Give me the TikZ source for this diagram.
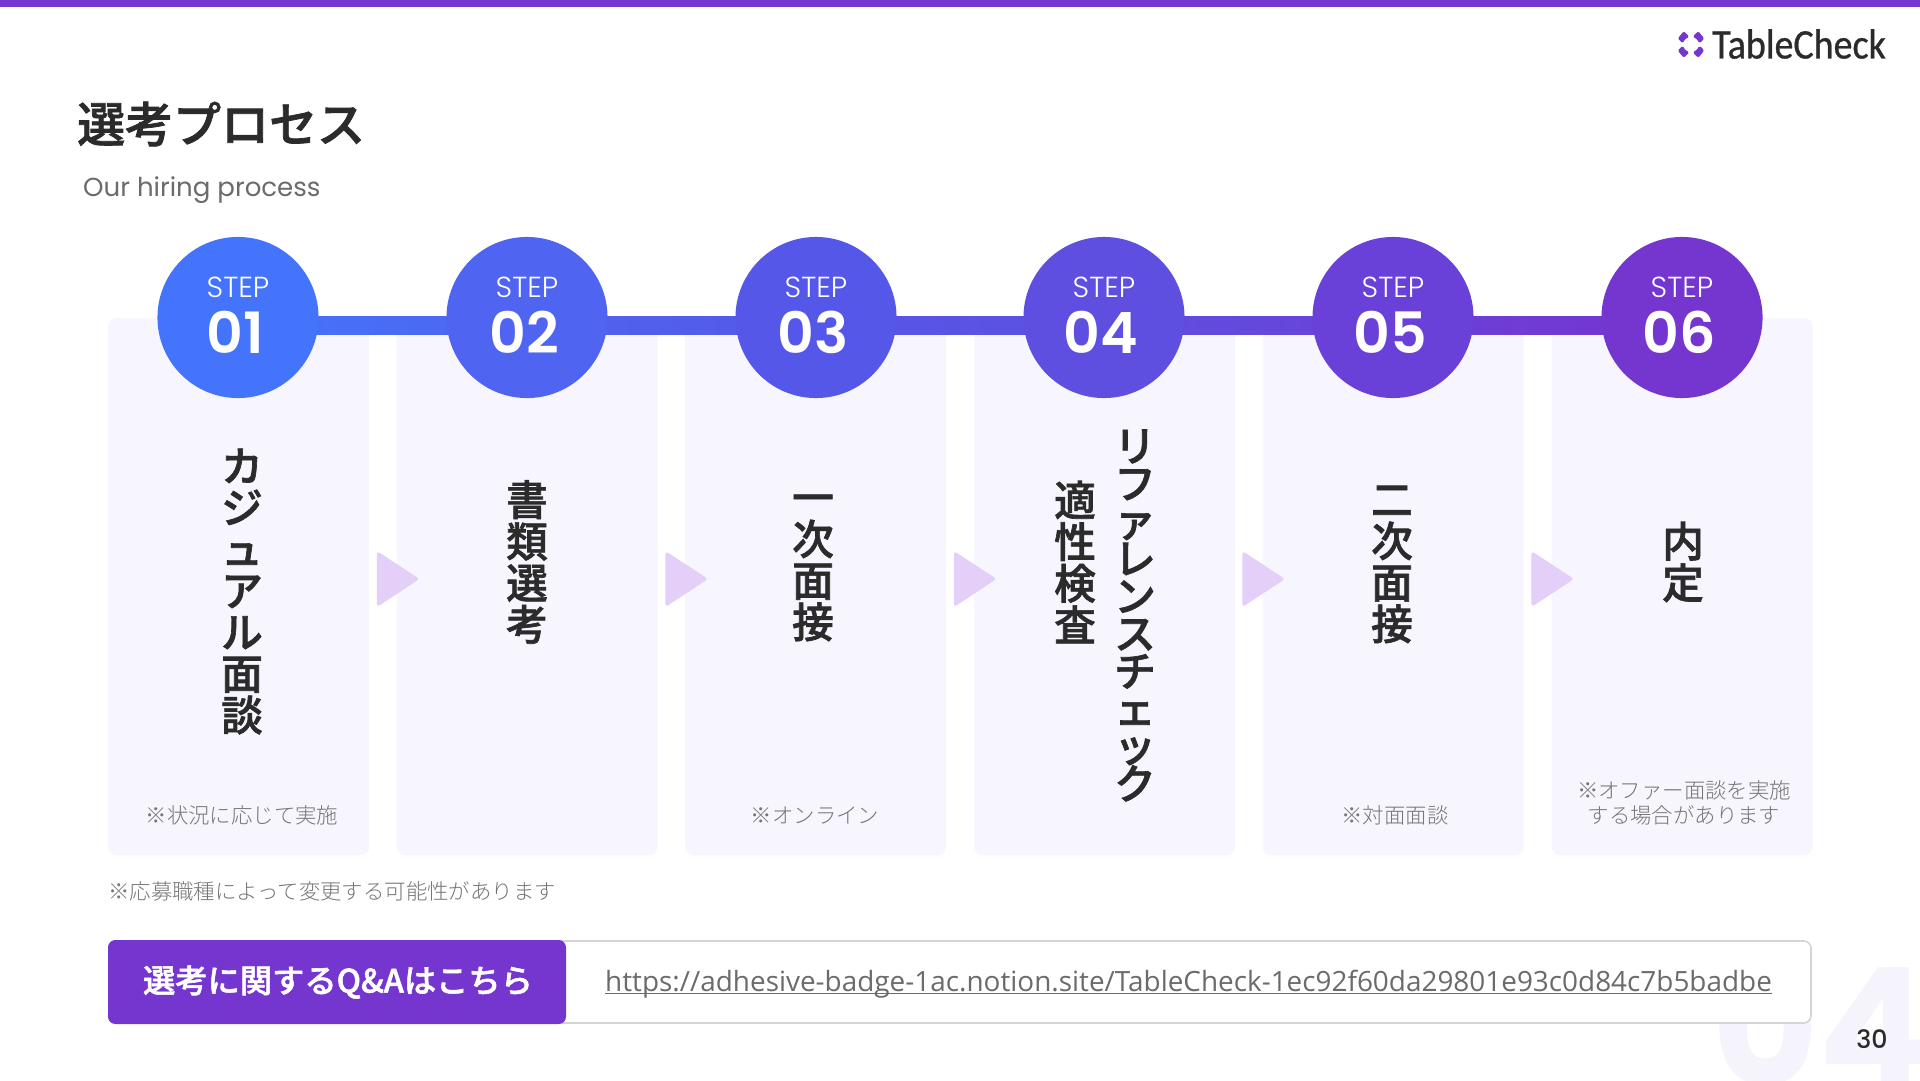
\documentclass[tikz,border=0pt]{standalone}
\usepackage{fontspec}
\setmainfont{Noto Sans CJK JP}
\newfontfamily\lightfont{Noto Sans CJK JP Light}
\newfontfamily\semifont[FakeBold=1.6]{Noto Sans CJK JP Medium}
\newfontfamily\dmfont{Poppins}
\newfontfamily\dmlight{Poppins Light}
\newfontfamily\dmmed{Poppins Medium}
\newfontfamily\dmsemi{Poppins SemiBold}
\newfontfamily\urlfont{Open Sans}
\newfontfamily\logofont[FakeStretch=0.9,FakeBold=0.7]{Carlito}
\usetikzlibrary{calc}
\pgfdeclarelayer{cardlayer}
\pgfdeclarelayer{connlayer}
\pgfsetlayers{cardlayer,connlayer,main}
\definecolor{topbar}{HTML}{7535CF}
\definecolor{cardbg}{HTML}{F7F5FD}
\definecolor{ink}{HTML}{2B2B2B}
\definecolor{note}{HTML}{767676}
\definecolor{subt}{HTML}{6B6B6B}
\definecolor{arrowc}{HTML}{E3CFF8}
\definecolor{wm}{HTML}{F5F3FC}
\definecolor{cA}{HTML}{4374FB}
\definecolor{cB}{HTML}{4F64F0}
\definecolor{cC}{HTML}{5557E8}
\definecolor{cD}{HTML}{5E4FE0}
\definecolor{cE}{HTML}{6A41D8}
\definecolor{cF}{HTML}{7535CF}
\tikzset{x=1cm/30,y=-1cm/30,
 card/.style={fill=cardbg,draw=none,rounded corners=8pt,minimum width=8.7cm,minimum height=17.9cm,anchor=north west},
 stepc/.style={circle,minimum size=5.37cm,inner sep=0pt,draw=none},
 steplabel/.style={font=\dmlight\fontsize{27.5}{27.5}\selectfont,text=white,inner sep=0pt},
 stepnum/.style={font=\dmsemi\fontsize{54}{54}\selectfont,text=white,inner sep=0pt},
 vlabel/.style={text=ink,inner sep=0pt,align=center,font=\semifont\fontsize{39.5}{39.4}\selectfont},
 vtight/.style={text=ink,inner sep=0pt,align=center,font=\semifont\fontsize{39.5}{35.6}\selectfont},
 notelabel/.style={text=note,font=\lightfont\fontsize{20.3}{23.3}\selectfont,inner sep=0pt,align=center},
 tri/.style={fill=arrowc,draw=arrowc,line width=1pt,rounded corners=2pt,line join=round},
 logopiece/.style={fill=topbar,draw=topbar,line width=1pt,rounded corners=1pt,line join=round}
}
\begin{document}
\begin{tikzpicture}
\useasboundingbox (0,0) rectangle (1920,1080);
\begin{pgfonlayer}{cardlayer}
\fill[white] (0,0) rectangle (1920,1080);
\begin{scope}
\clip (0,0) rectangle (1920,1080);
\node[anchor=base west,text=wm,inner sep=0pt,font=\dmfont\bfseries\fontsize{155}{155}\selectfont] (wmark) at (1712,1085) {04};
\end{scope}
\node[card] (c1) at (108,318) {};
\node[card] (c2) at (396.5,318) {};
\node[card] (c3) at (685,318) {};
\node[card] (c4) at (974,318) {};
\node[card] (c5) at (1262.5,318) {};
\node[card] (c6) at (1551.5,318) {};
\end{pgfonlayer}
\fill[topbar] (0,0) rectangle (1920,7);
% title
\node[anchor=west,text=ink,inner sep=0pt,font=\semifont\fontsize{45.5}{45.5}\selectfont] (title) at (77,124) {選考プロセス};
\node[anchor=west,text=subt,inner sep=0pt,font=\dmfont\fontsize{24.7}{24.7}\selectfont] (sub) at (83,190.5) {Our hiring process};
% logo
\node[anchor=west,text=ink,inner sep=0pt,font=\logofont\fontsize{40}{40}\selectfont] (logo) at (1712,44) {TableCheck};
\begin{scope}[shift={(1691,44.5)}]
\fill[logopiece] (-12.5,-6) -- (-7.3,-12.5) -- (-2.5,-8) -- (-6.5,-5.5) -- (-8.5,-2) -- cycle;
\fill[logopiece] (12.5,-6) -- (7.3,-12.5) -- (2.5,-8) -- (6.5,-5.5) -- (8.5,-2) -- cycle;
\fill[logopiece] (-12.5,6) -- (-7.3,12.5) -- (-2.5,8) -- (-6.5,5.5) -- (-8.5,2) -- cycle;
\fill[logopiece] (12.5,6) -- (7.3,12.5) -- (2.5,8) -- (6.5,5.5) -- (8.5,2) -- cycle;
\end{scope}
% circles
\node[stepc,fill=cA] (s1) at (238,317.5) {};
\node[stepc,fill=cB] (s2) at (527,317.5) {};
\node[stepc,fill=cC] (s3) at (816,317.5) {};
\node[stepc,fill=cD] (s4) at (1104,317.5) {};
\node[stepc,fill=cE] (s5) at (1393,317.5) {};
\node[stepc,fill=cF] (s6) at (1682,317.5) {};
% connectors
\begin{pgfonlayer}{connlayer}
\fill[left color=cA,right color=cB] ($(s1.center)+(0,-1.5)$) rectangle ($(s2.center)+(0,16.5)$);
\fill[left color=cB,right color=cC] ($(s2.center)+(0,-1.5)$) rectangle ($(s3.center)+(0,16.5)$);
\fill[left color=cC,right color=cD] ($(s3.center)+(0,-1.5)$) rectangle ($(s4.center)+(0,16.5)$);
\fill[left color=cD,right color=cE] ($(s4.center)+(0,-1.5)$) rectangle ($(s5.center)+(0,16.5)$);
\fill[left color=cE,right color=cF] ($(s5.center)+(0,-1.5)$) rectangle ($(s6.center)+(0,16.5)$);
\end{pgfonlayer}
% step labels
\foreach \n/\x in {01/238,02/527,03/816,04/1104,05/1393,06/1682}{
 \node[steplabel] (st\n) at (\x,287.5) {STEP};
 \node[stepnum] (nu\n) at (\x-3,332) {\n};
}
% arrows
\foreach \x in {377.5,666,954.5,1243,1532}{
 \fill[tri,draw=arrowc] (\x,552) -- (\x+41,579) -- (\x,606) -- cycle;
}
% vertical labels
\node[vlabel] (v1) at (242,591.5) {カ\\ジ\\ュ\\ア\\ル\\面\\談};
\node[vlabel] (v2) at (527,562) {書\\類\\選\\考};
\node[vlabel] (v3) at (813,568) {一\\次\\面\\接};
\node[vtight] (v4a) at (1135,615.5) {リ\\フ\\ァ\\レ\\ン\\ス\\チ\\ェ\\ッ\\ク};
\node[vlabel] (v4b) at (1075,562) {適\\性\\検\\査};
\node[vlabel] (v5) at (1392,564.5) {二\\次\\面\\接};
\node[vlabel] (v6) at (1683,562) {内\\定};
% notes
\node[notelabel] (n1) at (242,815) {※状況に応じて実施};
\node[notelabel] (n3) at (815,815.5) {※オンライン};
\node[notelabel] (n5) at (1395,815) {※対面面談};
\node[notelabel] (n6) at (1684,803) {※オファー面談を実施\\する場合があります};
\node[notelabel,anchor=west] (foot) at (108,891) {※応募職種によって変更する可能性があります};
% bottom bar
\draw[draw=black!17,line width=1.5pt,fill=white,rounded corners=7pt] (540,941) rectangle (1811,1023);
\fill[topbar,rounded corners=7pt] (108,940) rectangle (566,1024);
\node[inner sep=0pt,text=white,font=\semifont\fontsize{30.6}{30.6}\selectfont] (qa) at (338,982) {選考に関するQ\&Aはこちら};
\node[inner sep=0pt,anchor=base west,text=subt,font=\urlfont\fontsize{26.46}{26.46}\selectfont] (url) at (605,991.5) {https://adhesive-badge-1ac.notion.site/TableCheck-1ec92f60da29801e93c0d84c7b5badbe};
\draw[subt,line width=1.2pt] ($(url.base west)+(0,2)$) -- ($(url.base east)+(0,2)$);
\node[inner sep=0pt,text=ink,font=\dmmed\fontsize{24}{24}\selectfont] (pg) at (1872,1039) {30};
\end{tikzpicture}
\end{document}
